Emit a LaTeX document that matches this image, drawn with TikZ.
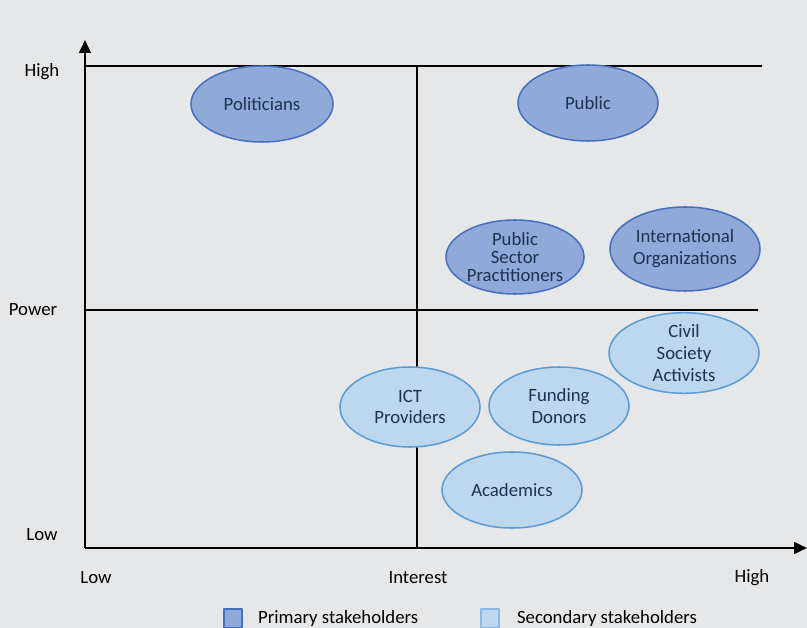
\documentclass[tikz,border=0pt]{standalone}
\usepackage{fontspec}
\setmainfont{Carlito}
\usetikzlibrary{shapes.geometric,arrows.meta}
\definecolor{bgcol}{HTML}{E6E7E8}
\definecolor{primfill}{HTML}{91A9D9}
\definecolor{primline}{HTML}{4670BE}
\definecolor{secfill}{HTML}{BDD7EE}
\definecolor{secline}{HTML}{5B9BD5}
\definecolor{txtcol}{HTML}{1F3250}
\tikzset{
  stake/.style={ellipse, inner sep=0pt, align=center, text=txtcol, line width=1.3pt,
    font=\fontsize{16}{18.7}\selectfont},
  prim/.style={stake, draw=primline, fill=primfill},
  sec/.style={stake, draw=secline, fill=secfill},
  axlabel/.style={font=\fontsize{16}{18.7}\selectfont},
}
\begin{document}
\begin{tikzpicture}[x=0.03cm, y=-0.03cm, line join=round, >={Triangle[length=11pt,width=10pt]}]
			\def\xo{85}\def\yo{548}\def\xm{417}\def\ym{310}
			\fill[bgcol] (0,0) rectangle (807,628);
			\useasboundingbox (0,0) rectangle (807,628);
			% grid
			\draw[line width=1.2pt] (\xo,66)--(762,66);
			\draw[line width=1.2pt] (\xo,\ym)--(758,\ym);
			\draw[line width=1.2pt] (\xm,66)--(\xm,\yo);
			% axes
			\draw[->, line width=1.8pt] (\xo,\yo)--(\xo,40);
			\draw[->, line width=1.8pt] (\xo,\yo)--(807,\yo);
			\node[axlabel] at (42,72) {High};
			\node[axlabel] at (33,310) {Power};
			\node[axlabel] at (42,535) {Low};
			\node[axlabel] at (96,578) {Low};
			\node[axlabel] at (418,578) {Interest};
			\node[axlabel] at (752,578) {High};
			% primary stakeholders
			\node[prim, minimum width=4.26cm, minimum height=2.28cm] (pol) at (262,104) {Politicians};
			\node[prim, minimum width=4.2cm, minimum height=2.28cm] (pub) at (588,103) {Public};
			\node[prim, minimum width=4.14cm, minimum height=2.22cm, font=\fontsize{16}{15}\selectfont] (psp) at (515,257) {Public\\Sector\\Practitioners};
			\node[prim, minimum width=4.5cm, minimum height=2.52cm] (intl) at (685,249) {International\\Organizations};
			% secondary stakeholders
			\node[sec, minimum width=4.5cm, minimum height=2.4cm] (civ) at (684,353) {Civil\\Society\\Activists};
			\node[sec, minimum width=4.2cm, minimum height=2.4cm] (ict) at (410,407) {ICT\\Providers};
			\node[sec, minimum width=4.2cm, minimum height=2.34cm] (fund) at (559,406) {Funding\\Donors};
			\node[sec, minimum width=4.2cm, minimum height=2.28cm] (acad) at (512,490) {Academics};
			% legend
			\draw[primline, fill=primfill, line width=1.3pt] (224,609) rectangle (242,628);
			\node[axlabel, anchor=west] (legp) at (254,619) {Primary stakeholders};
			\draw[secline!70, fill=secfill, line width=1.3pt] (481,609) rectangle (499,628);
			\node[axlabel, anchor=west] (legs) at (513,619) {Secondary stakeholders};
		\end{tikzpicture}
\end{document}
